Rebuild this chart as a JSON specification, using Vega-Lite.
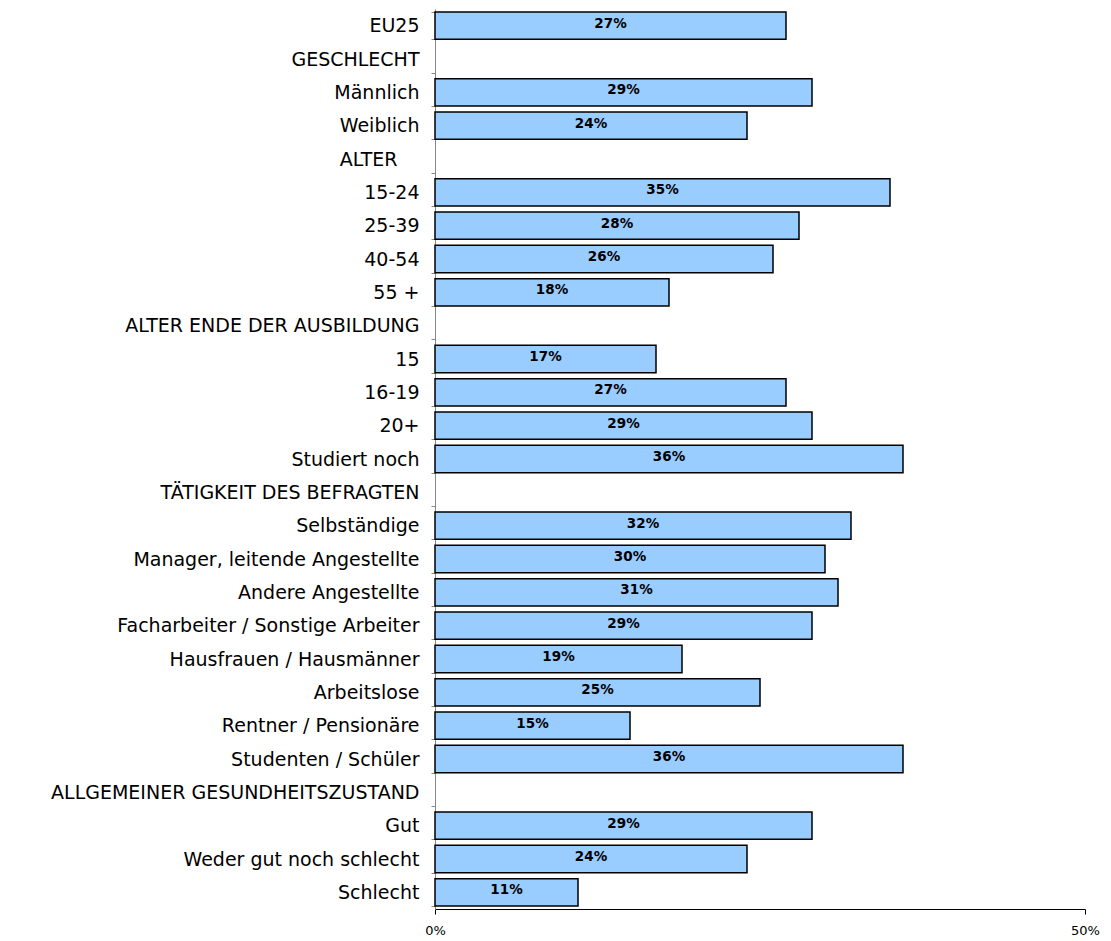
{
  "$schema": "https://vega.github.io/schema/vega-lite/v6.json",
  "width": 650,
  "height": 900,
  "autosize": {"type": "none"},
  "padding": {"left": 435, "top": 9, "right": 26, "bottom": 32},
  "background": "white",
  "config": {"view": {"stroke": null}, "font": "DejaVu Sans"},
  "data": {
    "values": [
      {"cat": "EU25", "value": 0.27},
      {"cat": "GESCHLECHT", "value": null},
      {"cat": "Männlich", "value": 0.29},
      {"cat": "Weiblich", "value": 0.24},
      {"cat": "ALTER", "value": null},
      {"cat": "15-24", "value": 0.35},
      {"cat": "25-39", "value": 0.28},
      {"cat": "40-54", "value": 0.26},
      {"cat": "55 +", "value": 0.18},
      {"cat": "ALTER ENDE DER AUSBILDUNG", "value": null},
      {"cat": "15", "value": 0.17},
      {"cat": "16-19", "value": 0.27},
      {"cat": "20+", "value": 0.29},
      {"cat": "Studiert noch", "value": 0.36},
      {"cat": "TÄTIGKEIT DES BEFRAGTEN", "value": null},
      {"cat": "Selbständige", "value": 0.32},
      {"cat": "Manager, leitende Angestellte", "value": 0.30},
      {"cat": "Andere Angestellte", "value": 0.31},
      {"cat": "Facharbeiter / Sonstige Arbeiter", "value": 0.29},
      {"cat": "Hausfrauen / Hausmänner", "value": 0.19},
      {"cat": "Arbeitslose", "value": 0.25},
      {"cat": "Rentner / Pensionäre", "value": 0.15},
      {"cat": "Studenten / Schüler", "value": 0.36},
      {"cat": "ALLGEMEINER GESUNDHEITSZUSTAND", "value": null},
      {"cat": "Gut", "value": 0.29},
      {"cat": "Weder gut noch schlecht", "value": 0.24},
      {"cat": "Schlecht", "value": 0.11}
    ]
  },
  "encoding": {
    "y": {
      "field": "cat",
      "type": "nominal",
      "sort": null,
      "scale": {
        "domain": ["EU25", "GESCHLECHT", "Männlich", "Weiblich", "ALTER", "15-24", "25-39", "40-54", "55 +", "ALTER ENDE DER AUSBILDUNG", "15", "16-19", "20+", "Studiert noch", "TÄTIGKEIT DES BEFRAGTEN", "Selbständige", "Manager, leitende Angestellte", "Andere Angestellte", "Facharbeiter / Sonstige Arbeiter", "Hausfrauen / Hausmänner", "Arbeitslose", "Rentner / Pensionäre", "Studenten / Schüler", "ALLGEMEINER GESUNDHEITSZUSTAND", "Gut", "Weder gut noch schlecht", "Schlecht"],
        "paddingInner": 0.18,
        "paddingOuter": 0.09
      },
      "axis": {
        "title": null,
        "labelFontSize": 19,
        "labelColor": "#000000",
        "labelFont": "DejaVu Sans",
        "tickBand": "extent",
        "tickSize": 4,
        "tickColor": "#888888",
        "domainColor": "#888888",
        "labelPadding": {"condition": {"test": "datum.value === 'ALTER'", "value": 34}, "value": 12},
        "labelLimit": 600
      }
    }
  },
  "layer": [
    {
      "mark": {"type": "bar", "fill": "#99CCFF", "stroke": "#000000", "strokeWidth": 1.5},
      "encoding": {
        "x": {
          "field": "value",
          "type": "quantitative",
          "scale": {"domain": [0, 0.5], "nice": false},
          "axis": {
            "title": null,
            "values": [0, 0.5],
            "format": ".0%",
            "labelFontSize": 13,
            "labelFlush": false,
            "labelColor": "#000000",
            "domainColor": "#000000",
            "tickColor": "#000000",
            "tickSize": 5,
            "labelPadding": 10,
            "grid": false
          }
        }
      }
    },
    {
      "mark": {"type": "text", "fontWeight": "bold", "fontSize": 13.5, "color": "#000000", "baseline": "middle", "align": "center", "dy": -2},
      "encoding": {
        "x": {
          "field": "value",
          "type": "quantitative",
          "scale": {"domain": [0, 1], "nice": false},
          "axis": null
        },
        "text": {"field": "value", "type": "quantitative", "format": ".0%"}
      }
    }
  ],
  "resolve": {"scale": {"x": "independent"}}
}
